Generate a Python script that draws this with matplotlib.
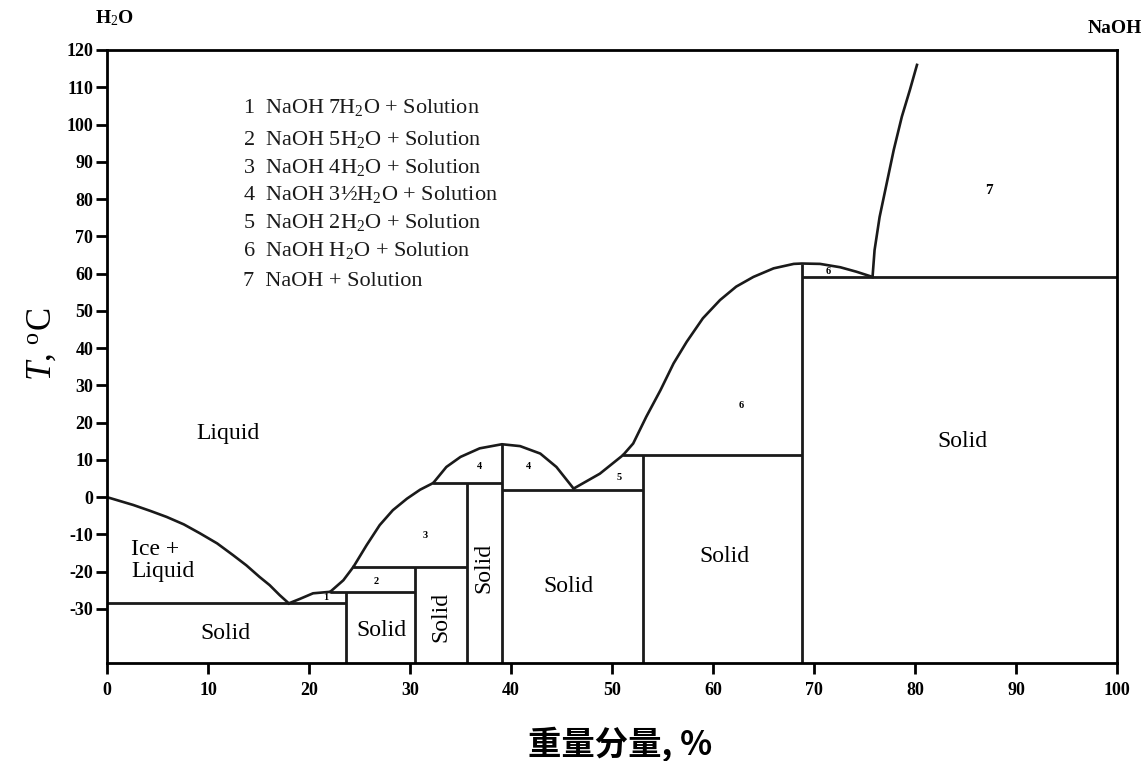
import numpy as np
import matplotlib.pyplot as plt

plt.rcParams['font.family'] = ['Liberation Serif', 'DejaVu Serif']
plt.rcParams['mathtext.fontset'] = 'custom'
plt.rcParams['mathtext.rm'] = 'Liberation Serif'
plt.rcParams['mathtext.it'] = 'Liberation Serif:italic'
plt.rcParams['mathtext.bf'] = 'Liberation Serif:bold'
plt.rcParams['axes.unicode_minus'] = False

# liquidus curves (wt% NaOH, T in C)
ice_x = [0, 2.6, 4.3, 5.9, 7.6, 9.2, 10.9, 12.5, 13.8, 15.1, 16.1, 17.1, 18.0]
ice_y = [0, -2.1, -3.7, -5.3, -7.3, -9.7, -12.4, -15.6, -18.3, -21.4, -23.6, -26.3, -28.5]
c1_x = [18.0, 19.1, 20.4, 22.1]
c1_y = [-28.5, -27.3, -25.8, -25.4]
c2_x = [22.1, 23.4, 24.4]
c2_y = [-25.4, -22.3, -18.7]
c3_x = [24.4, 25.7, 27.0, 28.3, 29.7, 31.0, 32.3]
c3_y = [-18.7, -12.9, -7.5, -3.5, -0.4, 2.0, 3.8]
c4_x = [32.3, 33.6, 35.0, 36.9, 39.1, 40.9, 42.9, 44.5, 46.2]
c4_y = [3.8, 8.1, 10.8, 13.1, 14.2, 13.7, 11.7, 8.1, 2.3]
c5_x = [46.2, 48.8, 51.1]
c5_y = [2.3, 6.3, 11.3]
c6_x = [51.1, 52.1, 53.4, 54.8, 56.1, 57.4, 59.0, 60.7, 62.3, 64.0, 66.0,
        68.0, 68.8, 70.6, 72.6, 74.2, 75.8]
c6_y = [11.3, 14.4, 21.6, 28.7, 35.9, 41.7, 48.0, 52.9, 56.5, 59.1, 61.4,
        62.6, 62.7, 62.6, 61.7, 60.5, 59.1]
c7_x = [75.8, 76.0, 76.5, 77.2, 77.9, 78.7, 79.5, 80.2]
c7_y = [59.1, 66.3, 75.2, 84.2, 93.2, 102.1, 109.3, 116.0]

# solid-phase boundaries
vert_x = [23.7, 30.5, 35.6, 39.1, 53.1, 68.8]
vert_top = [-25.4, -18.7, 3.8, 14.2, 11.3, 62.7]
horiz_y = [-28.5, -25.4, -18.7, 3.8, 2.0, 11.3, 59.1]
horiz_x0 = [0, 22.1, 24.4, 32.3, 39.1, 51.1, 68.8]
horiz_x1 = [23.7, 30.5, 35.6, 39.1, 53.1, 68.8, 100]

legend_lines = ['1  NaOH 7H$_2$O + Solution',
                '2  NaOH 5H$_2$O + Solution',
                '3  NaOH 4H$_2$O + Solution',
                '4  NaOH 3½H$_2$O + Solution',
                '5  NaOH 2H$_2$O + Solution',
                '6  NaOH H$_2$O + Solution',
                '7  NaOH + Solution']
legend_y = [104.7, 96.1, 88.6, 81.3, 73.8, 66.3, 58.0]

region_lbl = ['1', '2', '3', '4', '4', '5', '6', '6', '7']
region_x = [21.7, 26.7, 31.5, 36.9, 41.7, 50.7, 62.8, 71.4, 87.3]
region_y = [-26.8, -22.7, -10.2, 8.1, 8.1, 5.4, 24.7, 60.5, 82.4]
region_fs = [7.5, 7.5, 7.5, 7.5, 7.5, 7.5, 7.5, 7.5, 11]

ymin = -44.5

fig = plt.figure(figsize=(11.47, 7.61), dpi=100)
ax = fig.add_axes([0.0933, 0.1288, 0.8805, 0.8055])

ink = '#1a1a1a'
for cx, cy in [(ice_x, ice_y), (c1_x, c1_y), (c2_x, c2_y), (c3_x, c3_y),
               (c4_x, c4_y), (c5_x, c5_y), (c6_x, c6_y), (c7_x, c7_y)]:
    ax.plot(cx, cy, color=ink, lw=1.9, solid_joinstyle='round')
ax.vlines(vert_x, ymin, vert_top, color=ink, lw=2.0)
ax.hlines(horiz_y, horiz_x0, horiz_x1, color=ink, lw=2.0)

for s, y in zip(legend_lines, legend_y):
    ax.text(13.5, y, s, fontsize=16, va='center', ha='left', color=ink)

for s, x, y, f in zip(region_lbl, region_x, region_y, region_fs):
    ax.text(x, y, s, fontsize=f, fontweight='bold', ha='center', va='center')

fs = 17
ax.text(12.0, 17.2, 'Liquid', fontsize=fs, ha='center', va='center')
ax.text(2.4, -17.0, 'Ice +\nLiquid', fontsize=fs, ha='left', va='center', linespacing=1.05)
ax.text(11.7, -36.5, 'Solid', fontsize=fs, ha='center', va='center')
ax.text(27.2, -35.7, 'Solid', fontsize=fs, ha='center', va='center')
ax.text(33.1, -32.1, 'Solid', fontsize=fs, ha='center', va='center', rotation=90)
ax.text(37.3, -19.1, 'Solid', fontsize=fs, ha='center', va='center', rotation=90)
ax.text(45.7, -24.1, 'Solid', fontsize=fs, ha='center', va='center')
ax.text(61.1, -15.8, 'Solid', fontsize=fs, ha='center', va='center')
ax.text(84.7, 15.0, 'Solid', fontsize=fs, ha='center', va='center')

ax.set_xlim(0, 100)
ax.set_ylim(ymin, 120)
ax.set_xticks(np.arange(0, 101, 10))
ax.set_yticks(np.arange(-30, 121, 10))
ax.tick_params(direction='out', length=8, width=2, labelsize=13)
ax.tick_params(axis='x', pad=6)
ax.tick_params(axis='y', pad=2)
for lab in ax.get_xticklabels() + ax.get_yticklabels():
    lab.set_fontweight('bold')
for sp in ax.spines.values():
    sp.set_linewidth(2)

ax.set_ylabel('$T$, $^{\\mathrm{o}}$C', fontsize=25)
ax.yaxis.set_label_coords(-0.048, 0.52)
ax.set_xlabel('重量分量, %', fontsize=24, fontweight='bold',
              family=['Noto Sans CJK SC', 'DejaVu Sans'])
ax.xaxis.set_label_coords(0.508, -0.103)

fig.text(0.083, 0.976, 'H$_2$O', fontsize=14, fontweight='bold', va='center')
fig.text(0.996, 0.963, 'NaOH', fontsize=14, fontweight='bold', va='center', ha='right')

fig.savefig('out.png')
